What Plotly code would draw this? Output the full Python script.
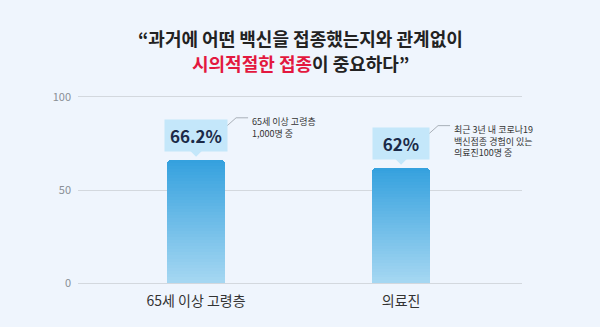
import plotly.graph_objects as go

categories = ["65세 이상 고령층", "의료진"]
values = [66.2, 62]
value_labels = ["66.2%", "62%"]
notes = ["65세 이상 고령층<br>1,000명 중", "최근 3년 내 코로나19<br>백신접종 경험이 있는<br>의료진100명 중"]
y_ticks = [0, 50, 100]

FONT = "Noto Sans CJK KR"
BG = "#eff5fd"
BUBBLE = "#c4e7fa"
TOP = (53, 161, 222)
BOTTOM = (165, 215, 242)
N = 40

fig = go.Figure()
for k in range(N):
    t = k / (N - 1)
    c = tuple(round(BOTTOM[j] + (TOP[j] - BOTTOM[j]) * t) for j in range(3))
    fig.add_trace(go.Bar(
        x=list(range(len(categories))),
        y=[v / N for v in values],
        marker=dict(color="rgb(%d,%d,%d)" % c, line=dict(width=0)),
        width=0.283,
        hoverinfo="skip",
        showlegend=False,
    ))

half_w = [31, 28]
for i, (v, lab, note) in enumerate(zip(values, value_labels, notes)):
    # bubble pointer
    fig.add_shape(type="path", xref="x", yref="y", xsizemode="pixel", ysizemode="pixel",
                  xanchor=i, yanchor=v, path="M -6 9 L 6 9 L 0 3 Z",
                  fillcolor=BUBBLE, line=dict(width=0))
    fig.add_annotation(x=i, y=v, xref="x", yref="y", text="<b>%s</b>" % lab,
                       showarrow=False, yanchor="bottom", yshift=8,
                       font=dict(family=FONT, size=17, color="#1b2a48"),
                       bgcolor=BUBBLE, borderpad=3, width=2 * half_w[i] - 6)
    hw = half_w[i]
    for (a, b, c2, d) in [(hw, 34, hw + 9, 42), (hw + 9, 42, hw + 21, 42)]:
        fig.add_shape(type="line", xref="x", yref="y", xsizemode="pixel", ysizemode="pixel",
                      xanchor=i, yanchor=v, x0=a, y0=b, x1=c2, y1=d,
                      line=dict(color="#a9b0b8", width=1))
    fig.add_annotation(x=i, y=v, xref="x", yref="y", text=note, showarrow=False,
                       xanchor="left", yanchor="top", xshift=hw + 23, yshift=47,
                       align="left", font=dict(family=FONT, size=9, color="#333333"))

fig.add_annotation(x=0.5, y=1.29, xref="paper", yref="paper", showarrow=False,
                   text="<b>“과거에 어떤 백신을 접종했는지와 관계없이</b>",
                   font=dict(family=FONT, size=18, color="#222222"), yanchor="middle")
fig.add_annotation(x=0.5, y=1.161, xref="paper", yref="paper", showarrow=False,
                   text="<b><span style='color:#e3183f'>시의적절한 접종</span>이 중요하다”</b>",
                   font=dict(family=FONT, size=18, color="#222222"), yanchor="middle")

fig.update_layout(
    width=600, height=327,
    margin=dict(l=78, r=78, t=94, b=41),
    paper_bgcolor=BG, plot_bgcolor=BG,
    barmode="stack", bargap=0, barcornerradius=4,
    showlegend=False,
    font=dict(family=FONT),
    xaxis=dict(range=[-0.576, 1.59], tickmode="array", tickvals=list(range(len(categories))),
               ticktext=categories, showgrid=False, zeroline=False, showline=False,
               tickfont=dict(family=FONT, size=14, color="#333333"), ticks="",
               ticklabelstandoff=5),
    yaxis=dict(range=[-1.5, 101.5], tickvals=y_ticks, showgrid=True, gridcolor="#d3d8de",
               gridwidth=1, zeroline=False, showline=False, ticks="",
               tickfont=dict(family=FONT, size=11, color="#8a8f96"), ticklabelstandoff=6),
)

fig.write_html("out.html")
